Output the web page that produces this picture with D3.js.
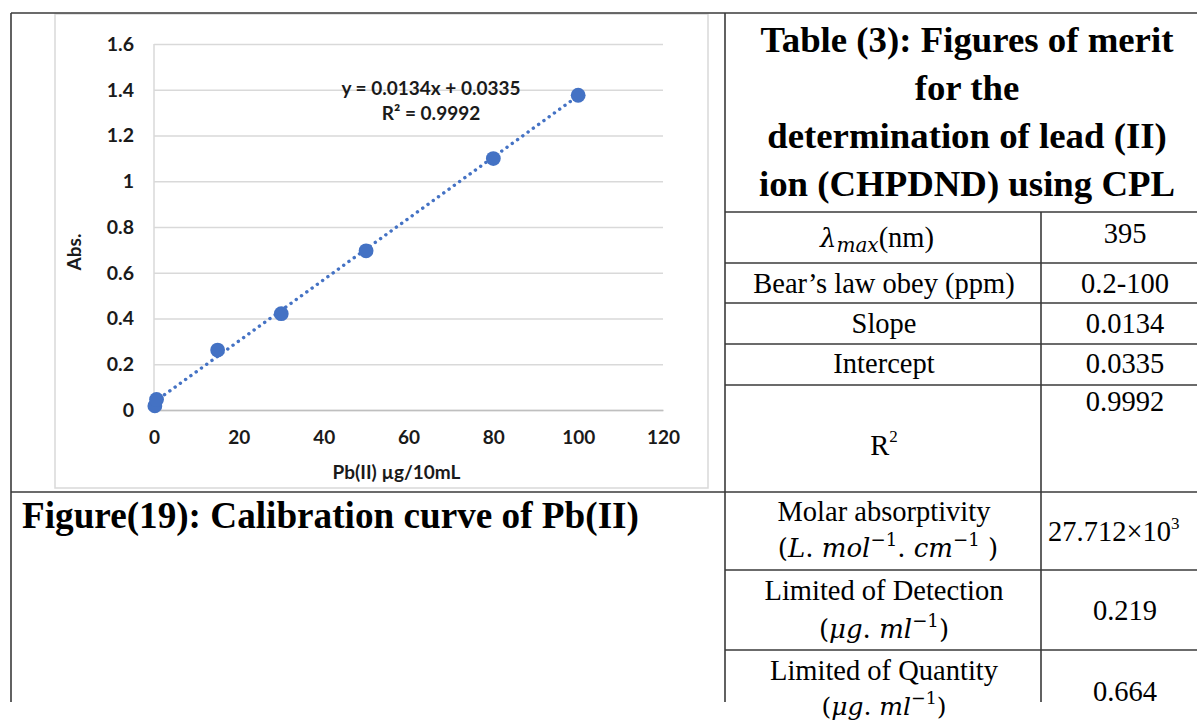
<!DOCTYPE html>
<html>
<head>
<meta charset="utf-8">
<script src="https://cdn.jsdelivr.net/npm/d3@7"></script>
<style>
  html, body { margin: 0; padding: 0; background: #fff; }
  svg { display: block; }
</style>
</head>
<body>
<div id="page"></div>
<script>
// Calibration data for Pb(II): concentration (µg/10mL) vs absorbance
const concentrations = [0.2, 0.6, 15, 30, 50, 80, 100];
const absorbances = [0.018, 0.046, 0.262, 0.421, 0.696, 1.099, 1.376];

// Linear fit reported on the chart
const fitSlope = 0.0134;
const fitIntercept = 0.0335;
const fitR2 = 0.9992;
const fitRange = [0, 100];

// Axis ticks
const xTicks = [0, 20, 40, 60, 80, 100, 120];
const yTicks = [0, 0.2, 0.4, 0.6, 0.8, 1, 1.2, 1.4, 1.6];
const xTitle = "Pb(II) µg/10mL";
const yTitle = "Abs.";
const figureCaption = "Figure(19): Calibration curve of Pb(II)";

// Figures-of-merit table
const tableTitle = [
  "Table (3): Figures of merit",
  "for the",
  "determination of lead (II)",
  "ion (CHPDND) using CPL"
];
const meritValues = ["395", "0.2-100", "0.0134", "0.0335", "0.9992", "27.712×10", "0.219", "0.664"];

const W = 1197, H = 722;
const svg = d3.select("#page").append("svg")
  .attr("width", W).attr("height", H)
  .attr("viewBox", `0 0 ${W} ${H}`);

const lineColor = "#3a3a3a";
const serif = "'Liberation Serif', 'Times New Roman', serif";
const mathFont = "'DejaVu Serif', serif";
const chartFont = "Lato, 'Open Sans', sans-serif";
const blue = "#4472C4";
const textDark = "#1a1a1a";

// ---------- Chart ----------
const x = d3.scaleLinear().domain([0, 120]).range([154, 663]);
const y = d3.scaleLinear().domain([0, 1.6]).range([410, 44]);

// chart area border
svg.append("rect")
  .attr("x", 55).attr("y", 14).attr("width", 653).attr("height", 474)
  .attr("fill", "#fff").attr("stroke", "#d9d9d9").attr("stroke-width", 1.5);

const plotW = x(120) - x(0);

// horizontal gridlines + y tick labels
const yAxis = svg.append("g")
  .attr("transform", `translate(${x(0)},0)`)
  .call(d3.axisLeft(y).tickValues(yTicks).tickSize(-plotW).tickPadding(20)
    .tickFormat(d => String(+d.toFixed(1))));
yAxis.select(".domain").remove();
yAxis.selectAll(".tick line").attr("stroke", "#d9d9d9").attr("stroke-width", 1.5);
yAxis.selectAll(".tick text")
  .attr("font-family", chartFont).attr("font-weight", 700)
  .attr("font-size", 19.5).attr("fill", textDark);

// left axis line
svg.append("line")
  .attr("x1", x(0)).attr("x2", x(0)).attr("y1", y(1.6)).attr("y2", y(0))
  .attr("stroke", "#d9d9d9").attr("stroke-width", 1.5);

// bottom axis
const xAxis = svg.append("g")
  .attr("transform", `translate(0,${y(0)})`)
  .call(d3.axisBottom(x).tickValues(xTicks).tickSize(0).tickPadding(21));
xAxis.select(".domain").attr("stroke", "#bfbfbf").attr("stroke-width", 1.5);
xAxis.selectAll(".tick text")
  .attr("font-family", chartFont).attr("font-weight", 700)
  .attr("font-size", 19).attr("fill", textDark);

// axis titles
svg.append("text")
  .attr("x", (x(0) + x(120)) / 2 - 12).attr("y", 479)
  .attr("text-anchor", "middle")
  .attr("font-family", chartFont).attr("font-weight", 700)
  .attr("font-size", 19).attr("fill", textDark)
  .text(xTitle);

svg.append("text")
  .attr("transform", "translate(81,252) rotate(-90)")
  .attr("text-anchor", "middle")
  .attr("font-family", chartFont).attr("font-weight", 700)
  .attr("font-size", 19).attr("fill", textDark)
  .text(yTitle);

// dotted linear trendline
const trend = fitRange.map(c => [c, fitSlope * c + fitIntercept]);
svg.append("path")
  .attr("d", d3.line().x(d => x(d[0])).y(d => y(d[1]))(trend))
  .attr("fill", "none").attr("stroke", blue)
  .attr("stroke-width", 3.4).attr("stroke-linecap", "round")
  .attr("stroke-dasharray", "0.1 6.4");

// data markers
svg.append("g").selectAll("circle")
  .data(concentrations.map((c, i) => [c, absorbances[i]]))
  .join("circle")
  .attr("cx", d => x(d[0])).attr("cy", d => y(d[1]))
  .attr("r", 7.4).attr("fill", blue);

// equation label
const eq = svg.append("text")
  .attr("text-anchor", "middle")
  .attr("font-family", chartFont).attr("font-weight", 700)
  .attr("font-size", 19).attr("fill", textDark);
eq.append("tspan").attr("x", 431).attr("y", 95)
  .text(`y = ${fitSlope}x + ${fitIntercept}`);
eq.append("tspan").attr("x", 431).attr("y", 120)
  .text(`R² = ${fitR2}`);

// ---------- Frame ----------
function rule(x1, y1, x2, y2) {
  svg.append("line")
    .attr("x1", x1).attr("y1", y1).attr("x2", x2).attr("y2", y2)
    .attr("stroke", lineColor).attr("stroke-width", 1.6);
}
rule(11, 13, W, 13);
rule(11, 13, 11, 702);
rule(725, 13, 725, 702);
rule(11, 492, W, 492);
rule(1041, 212, 1041, 702);
[212, 263, 303, 344, 385, 570, 650].forEach(v => rule(725, v, W, v));

// figure caption
svg.append("text")
  .attr("x", 22).attr("y", 528)
  .attr("font-family", serif).attr("font-weight", 700)
  .attr("font-size", 37.2).attr("fill", "#000")
  .text(figureCaption);

// ---------- Table ----------
const tTitle = svg.append("text")
  .attr("text-anchor", "middle")
  .attr("font-family", serif).attr("font-weight", 700)
  .attr("font-size", 36.8).attr("fill", "#000");
tableTitle.forEach((t, i) => {
  tTitle.append("tspan").attr("x", 967).attr("y", 52 + i * 48).text(t);
});

const labelX = 884, valueX = 1125, bodySize = 28.5;

function bodyText(xp, yp, str, anchor = "middle") {
  return svg.append("text")
    .attr("x", xp).attr("y", yp).attr("text-anchor", anchor)
    .attr("font-family", serif).attr("font-size", bodySize).attr("fill", "#000")
    .text(str);
}

// row 1: λmax(nm)
const lam = svg.append("text")
  .attr("x", 877).attr("y", 247).attr("text-anchor", "middle")
  .attr("font-size", bodySize).attr("fill", "#000");
lam.append("tspan").attr("font-family", mathFont).attr("font-style", "italic")
  .attr("font-size", 26).text("λ");
lam.append("tspan").attr("font-family", mathFont).attr("font-style", "italic")
  .attr("font-size", 20).attr("dy", 5).text("max");
lam.append("tspan").attr("font-family", serif).attr("dy", -5).text("(nm)");
bodyText(valueX, 243, meritValues[0]);

// rows 2–4
bodyText(labelX, 293, "Bear’s law obey (ppm)");
bodyText(valueX, 293, meritValues[1]);
bodyText(labelX, 333, "Slope");
bodyText(valueX, 333, meritValues[2]);
bodyText(labelX, 373, "Intercept");
bodyText(valueX, 373, meritValues[3]);

// row 5: R²
const r2 = bodyText(labelX, 455, "R");
r2.append("tspan").attr("font-size", 17).attr("dy", -13).text("2");
bodyText(valueX, 411, meritValues[4]);

// math-style unit lines
function unitText(xp, yp, parts, size = 26) {
  const t = svg.append("text")
    .attr("x", xp).attr("y", yp).attr("text-anchor", "middle")
    .attr("font-family", mathFont).attr("font-style", "italic")
    .attr("font-size", size).attr("fill", "#000");
  parts.forEach(p => {
    const s = t.append("tspan").text(p.t);
    if (p.sup) s.attr("font-size", size * 0.7).attr("font-style", "normal").attr("dy", p.dy);
    else if (p.dy) s.attr("dy", p.dy);
    if (p.up) s.attr("font-style", "normal");
  });
  return t;
}

const molarUnit = [
  { t: "(", up: true }, { t: "L" }, { t: ". ", up: true }, { t: "mol" },
  { t: "−1", sup: true, dy: -11 }, { t: ". ", up: true, dy: 11 }, { t: "cm" },
  { t: "−1", sup: true, dy: -11 }, { t: " )", up: true, dy: 11 }
];
const concUnit = [
  { t: "(", up: true }, { t: "μg" }, { t: ". ", up: true }, { t: "ml" },
  { t: "−1", sup: true, dy: -11 }, { t: ")", up: true, dy: 11 }
];

// row 6: molar absorptivity
bodyText(labelX, 521, "Molar absorptivity");
unitText(labelX + 4, 557, molarUnit);
const molar = bodyText(1048, 541, meritValues[5], "start");
molar.append("tspan").attr("font-size", 17).attr("dy", -12).text("3");

// row 7: limit of detection
bodyText(labelX, 600, "Limited of Detection");
unitText(labelX, 638, concUnit);
bodyText(valueX, 620, meritValues[6]);

// row 8: limit of quantity
bodyText(labelX, 680, "Limited of Quantity");
unitText(labelX, 715, concUnit, 25);
bodyText(valueX, 701, meritValues[7]);
</script>
</body>
</html>
